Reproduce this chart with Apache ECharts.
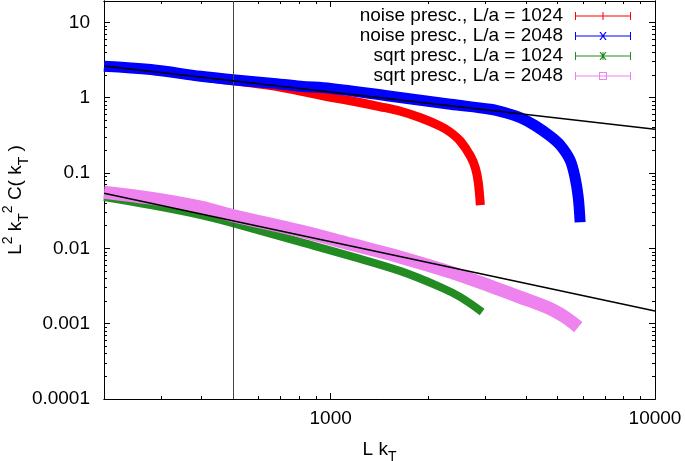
<!DOCTYPE html>
<html><head><meta charset="utf-8">
<script src="https://cdn.jsdelivr.net/npm/echarts@6/dist/echarts.min.js"></script>
<style>html,body{margin:0;padding:0;background:#fff}#c{width:685px;height:461px}</style>
</head><body><div id="c"></div>
<script>
// ---- data ----
const seriesNames = ['noise presc., L/a = 1024', 'noise presc., L/a = 2048', 'sqrt presc., L/a = 1024', 'sqrt presc., L/a = 2048'];
const noise1024X = [200, 279, 398, 499, 654, 753, 1000, 1152, 1425, 1642, 1892, 2180, 2339, 2512, 2699, 2795, 2851, 2894];
const noise1024Y = [2.60, 2.36, 1.89, 1.68, 1.45, 1.30, 1.012, 0.910, 0.757, 0.660, 0.541, 0.418, 0.3475, 0.264, 0.167, 0.1158, 0.0755, 0.0374];
const noise2048X = [200, 279, 398, 499, 654, 809, 1000, 1530, 2339, 3105, 3456, 3846, 4276, 4753, 5105, 5475, 5674, 5798, 5876];
const noise2048Y = [2.62, 2.36, 1.92, 1.73, 1.56, 1.42, 1.33, 1.044, 0.818, 0.702, 0.631, 0.541, 0.424, 0.308, 0.234, 0.148, 0.0853, 0.0478, 0.0222];
const sqrt1024X = [200, 279, 398, 499, 809, 1152, 1642, 2180, 2512, 2930];
const sqrt1024Y = [0.0478, 0.0374, 0.0276, 0.0216, 0.0121, 0.00788, 0.00498, 0.00306, 0.00225, 0.00143];
const sqrt2048X = [200, 279, 398, 499, 809, 1152, 1642, 2339, 3105, 3762, 4753, 5284, 5800];
const sqrt2048Y = [0.0556, 0.0463, 0.0352, 0.0272, 0.0169, 0.01137, 0.00764, 0.00483, 0.00315, 0.00232, 0.00158, 0.00122, 0.00090];
const fitUpperX = [200, 10000];
const fitUpperY = [2.63, 0.38];
const fitLowerX = [200, 10000];
const fitLowerY = [0.054, 0.00147];
const markerX = 500;
const xMajorTicks = [1000, 10000];
const xMinorTicks = [300, 400, 500, 600, 700, 800, 900, 2000, 3000, 4000, 5000, 6000, 7000, 8000, 9000];
const yMajorTicks = [0.0001, 0.001, 0.01, 0.1, 1, 10];
const yTickLabels = ['0.0001', '0.001', '0.01', '0.1', '1', '10'];
const yMinorTicks = [0.0002,0.0003,0.0004,0.0005,0.0006,0.0007,0.0008,0.0009,
  0.002,0.003,0.004,0.005,0.006,0.007,0.008,0.009,
  0.02,0.03,0.04,0.05,0.06,0.07,0.08,0.09,
  0.2,0.3,0.4,0.5,0.6,0.7,0.8,0.9,
  2,3,4,5,6,7,8,9];
const xMin = 200, xMax = 10000, yMin = 0.0001, yMax = 19.2;

// ---- chart ----
const FONT = '"Liberation Sans", Arial, Helvetica, sans-serif';
const lg = v => Math.round(Math.log10(v) * 1e9) / 1e9;
const colors = ['#ff0000', '#0000ff', '#228b22', '#ee82ee'];
const widths = [9, 11, 8, 13];
const xsArr = [noise1024X, noise2048X, sqrt1024X, sqrt2048X];
const ysArr = [noise1024Y, noise2048Y, sqrt1024Y, sqrt2048Y];

function tickAxis(pos, lo, hi, ticks, len, extra) {
  return Object.assign({
    type: 'value', position: pos, min: lg(lo), max: lg(hi), offset: 0,
    axisLine: { show: true, onZero: false, lineStyle: { color: '#000', width: 1 } },
    axisTick: { show: true, inside: true, length: len, customValues: ticks.map(lg), lineStyle: { color: '#000', width: 1 } },
    axisLabel: { show: false }, splitLine: { show: false }, minorTick: { show: false }
  }, extra || {});
}

const bar = 'M0 3.5H56V4.5H0Z M0 0H1V8H0Z M55 0H56V8H55Z ';
const icons = [
  'path://' + bar + 'M27.5 0H28.5V8H27.5Z',
  'path://' + bar + 'M24.4 0H25.8L31.6 8H30.2Z M30.2 0H31.6L25.8 8H24.4Z',
  'path://' + bar + 'M27.5 0H28.5V8H27.5Z M24.4 0H25.8L31.6 8H30.2Z M30.2 0H31.6L25.8 8H24.4Z',
  'path://' + bar + 'M24 0H32V8H24Z M25 1V7H31V1Z'
];

const xAxes = [
  { type: 'log', logBase: 10, min: xMin, max: xMax, show: false },
  tickAxis('bottom', xMin, xMax, xMajorTicks, 6, {
    axisLabel: { show: true, customValues: xMajorTicks.map(lg), margin: 10, fontSize: 19, fontFamily: FONT, color: '#000',
      formatter: v => String(Math.round(Math.pow(10, v))) },
    name: '{a|L k}{s|T}', nameLocation: 'middle', nameGap: 37, nameMoveOverlap: false,
    nameTextStyle: { fontSize: 19, fontFamily: FONT, color: '#000',
      rich: { a: { fontSize: 19, fontFamily: FONT, lineHeight: 28 }, s: { fontSize: 14, fontFamily: FONT, lineHeight: 12, verticalAlign: 'bottom' } } }
  }),
  tickAxis('bottom', xMin, xMax, xMinorTicks, 3),
  tickAxis('top', xMin, xMax, xMajorTicks, 6),
  tickAxis('top', xMin, xMax, xMinorTicks, 3)
];
const yAxes = [
  { type: 'log', logBase: 10, min: yMin, max: yMax, show: false },
  tickAxis('left', yMin, yMax, yMajorTicks, 6, {
    axisLabel: { show: true, customValues: yMajorTicks.map(lg), margin: 14, fontSize: 19, fontFamily: FONT, color: '#000',
      formatter: v => { const i = yMajorTicks.findIndex(t => Math.abs(lg(t) - v) < 1e-6); return i >= 0 ? yTickLabels[i] : ''; } },
    name: '{a|L}{p|2}{a| k}{s|T}{p|2}{a| C( k}{s|T}{a| )}', nameLocation: 'middle', nameGap: 73, nameMoveOverlap: false,
    nameTextStyle: { fontSize: 19, fontFamily: FONT, color: '#000',
      rich: { a: { fontSize: 19, fontFamily: FONT, lineHeight: 30 },
              p: { fontSize: 14, fontFamily: FONT, lineHeight: 12, verticalAlign: 'top' },
              s: { fontSize: 14, fontFamily: FONT, lineHeight: 12, verticalAlign: 'bottom' } } }
  }),
  tickAxis('left', yMin, yMax, yMinorTicks, 3),
  tickAxis('right', yMin, yMax, yMajorTicks, 6),
  tickAxis('right', yMin, yMax, yMinorTicks, 3)
];

const series = seriesNames.map((name, k) => ({
  name, type: 'line', xAxisIndex: 0, yAxisIndex: 0,
  data: xsArr[k].map((x, i) => [x, ysArr[k][i]]),
  symbol: 'none', showSymbol: false, color: colors[k], silent: true,
  smooth: 0.35,
  lineStyle: { color: colors[k], width: widths[k], cap: 'butt', join: 'round' },
  z: 2 + k
}));
series.push({
  name: 'fitUpper', type: 'line', xAxisIndex: 0, yAxisIndex: 0,
  data: fitUpperX.map((x, i) => [x, fitUpperY[i]]), symbol: 'none', silent: true, z: 10,
  lineStyle: { color: '#000', width: 1.5 },
  markLine: { silent: true, symbol: ['none', 'none'], label: { show: false },
    lineStyle: { color: '#444', width: 1, type: 'solid' }, data: [{ xAxis: markerX }] }
});
series.push({
  name: 'fitLower', type: 'line', xAxisIndex: 0, yAxisIndex: 0,
  data: fitLowerX.map((x, i) => [x, fitLowerY[i]]), symbol: 'none', silent: true, z: 10,
  lineStyle: { color: '#000', width: 1.5 }
});

const chart = echarts.init(document.getElementById('c'), null, { renderer: 'canvas' });
chart.setOption({
  animation: false,
  backgroundColor: '#fff',
  grid: { left: 104, right: 30, top: 1, bottom: 62, containLabel: false, outerBoundsMode: 'none' },
  legend: {
    orient: 'vertical', right: 54, top: 6, align: 'right', padding: 0,
    itemWidth: 56, itemHeight: 8, itemGap: 0, selectedMode: false,
    itemStyle: { borderWidth: 0 },
    textStyle: { fontSize: 19, fontFamily: FONT, color: '#000', lineHeight: 20, padding: [0, 7, 0, 0] },
    data: seriesNames.map((n, i) => ({ name: n, icon: icons[i] }))
  },
  xAxis: xAxes,
  yAxis: yAxes,
  series
});
</script></body></html>
